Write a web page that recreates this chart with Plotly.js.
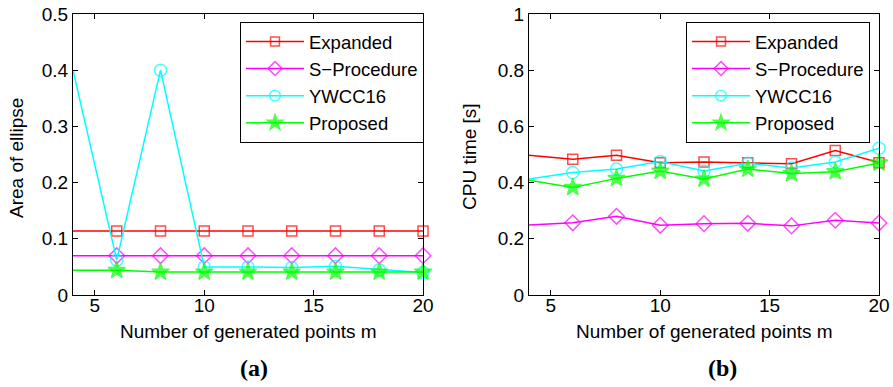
<!DOCTYPE html>
<html>
<head>
<meta charset="utf-8">
<script src="https://cdn.plot.ly/plotly-3.0.1.min.js"></script>
<style>html,body{margin:0;padding:0;background:#fff;}#chart{width:893px;height:387px;}</style>
</head>
<body>
<div id="chart"></div>
<script>
// ---- data ----
const m = [4, 6, 8, 10, 12, 14, 16, 18, 20];
const seriesNames = ["Expanded", "S\u2212Procedure", "YWCC16", "Proposed"];

// (a) Area of ellipse
const areaExpanded = [0.114, 0.114, 0.114, 0.114, 0.114, 0.114, 0.114, 0.114, 0.114];
const areaSProc    = [0.070, 0.070, 0.070, 0.070, 0.070, 0.070, 0.070, 0.070, 0.070];
const areaYWCC16   = [0.400, 0.062, 0.400, 0.050, 0.050, 0.049, 0.051, 0.045, 0.040];
const areaProposed = [0.044, 0.044, 0.041, 0.041, 0.041, 0.041, 0.041, 0.041, 0.041];

// (b) CPU time [s]
const cpuExpanded = [0.497, 0.483, 0.497, 0.471, 0.473, 0.471, 0.467, 0.514, 0.471];
const cpuSProc    = [0.249, 0.257, 0.280, 0.248, 0.254, 0.255, 0.246, 0.266, 0.256];
const cpuYWCC16   = [0.413, 0.436, 0.448, 0.475, 0.441, 0.469, 0.452, 0.473, 0.522];
const cpuProposed = [0.408, 0.383, 0.415, 0.441, 0.413, 0.448, 0.432, 0.439, 0.470];

const xTicks = [5, 10, 15, 20];
const areaTicks = [0, 0.1, 0.2, 0.3, 0.4, 0.5];
const cpuTicks = [0, 0.2, 0.4, 0.6, 0.8, 1];

// ---- styles ----
const W = 893, H = 387;
const px = v => v / W;
const py = v => 1 - v / H;
const FONT = "Liberation Sans, Arial, sans-serif";
const FS = 19;
const colors = ["#ff0000", "#ff00ff", "#00ffff", "#00ff00"];
const symbols = ["square-open", "diamond-open", "circle-open", "star"];
const baseSize = [10, 12, 12, 13];
const xMin = 4, xMax = 20;

function makeTrace(i, y, xa, ya, legend) {
  const sizes = m.map(v => (v === xMin ? 0 : baseSize[i]));
  return {
    x: m, y: y, xaxis: xa, yaxis: ya, legend: legend,
    name: seriesNames[i], type: "scatter", mode: "lines+markers",
    cliponaxis: false,
    line: {color: colors[i], width: 1.5},
    marker: {symbol: symbols[i], size: sizes, color: colors[i],
             line: {color: colors[i], width: 1.5}}
  };
}

const areaData = [areaExpanded, areaSProc, areaYWCC16, areaProposed];
const cpuData = [cpuExpanded, cpuSProc, cpuYWCC16, cpuProposed];
const traces = [];
areaData.forEach((y, i) => traces.push(makeTrace(i, y, "x", "y", "legend")));
cpuData.forEach((y, i) => traces.push(makeTrace(i, y, "x2", "y2", "legend2")));

const axisCommon = {
  showline: true, linecolor: "#000", linewidth: 1, mirror: "ticks",
  ticks: "inside", ticklen: 5, tickwidth: 1, tickcolor: "#000",
  showgrid: false, zeroline: false, automargin: false,
  tickfont: {family: FONT, size: FS, color: "#000"}
};
const xAxisExtra = {ticklabelstandoff: -7};

const yDom = [py(295), py(14)];
const legendCommon = {
  bgcolor: "#fff", bordercolor: "#000", borderwidth: 1,
  font: {family: FONT, size: 18.5, color: "#000"},
  xanchor: "right", yanchor: "top", tracegroupgap: 0, itemwidth: 58
};

const layout = {
  width: W, height: H,
  margin: {l: 0, r: 0, t: 0, b: 0},
  paper_bgcolor: "#fff", plot_bgcolor: "#fff",
  showlegend: true,
  xaxis: Object.assign({}, axisCommon, xAxisExtra, {domain: [px(73), px(423)], range: [xMin, xMax], tickvals: xTicks, anchor: "y"}),
  yaxis: Object.assign({}, axisCommon, {domain: yDom, range: [0, 0.5], tickvals: areaTicks, anchor: "x"}),
  xaxis2: Object.assign({}, axisCommon, xAxisExtra, {domain: [px(529), px(879)], range: [xMin, xMax], tickvals: xTicks, anchor: "y2"}),
  yaxis2: Object.assign({}, axisCommon, {domain: yDom, range: [0, 1], tickvals: cpuTicks, anchor: "x2"}),
  legend: Object.assign({}, legendCommon, {x: px(424), y: py(22)}),
  legend2: Object.assign({}, legendCommon, {x: px(870), y: py(22)}),
  annotations: [
    {text: "Area of ellipse", x: px(16), y: py(158), textangle: -90},
    {text: "CPU time [s]", x: px(469), y: py(157), textangle: -90},
    {text: "Number of generated points m", x: px(248), y: py(331)},
    {text: "Number of generated points m", x: px(704), y: py(331)},
    {text: "<b>(a)</b>", x: px(254), y: py(368), font: {family: "Liberation Serif, Times New Roman, serif", size: 24, color: "#000"}},
    {text: "<b>(b)</b>", x: px(722), y: py(368), font: {family: "Liberation Serif, Times New Roman, serif", size: 24, color: "#000"}}
  ].map(a => Object.assign({xref: "paper", yref: "paper", showarrow: false,
    xanchor: "center", yanchor: "middle",
    font: {family: FONT, size: FS, color: "#000"}}, a))
};

Plotly.newPlot("chart", traces, layout, {displayModeBar: false, staticPlot: true});
</script>
</body>
</html>
